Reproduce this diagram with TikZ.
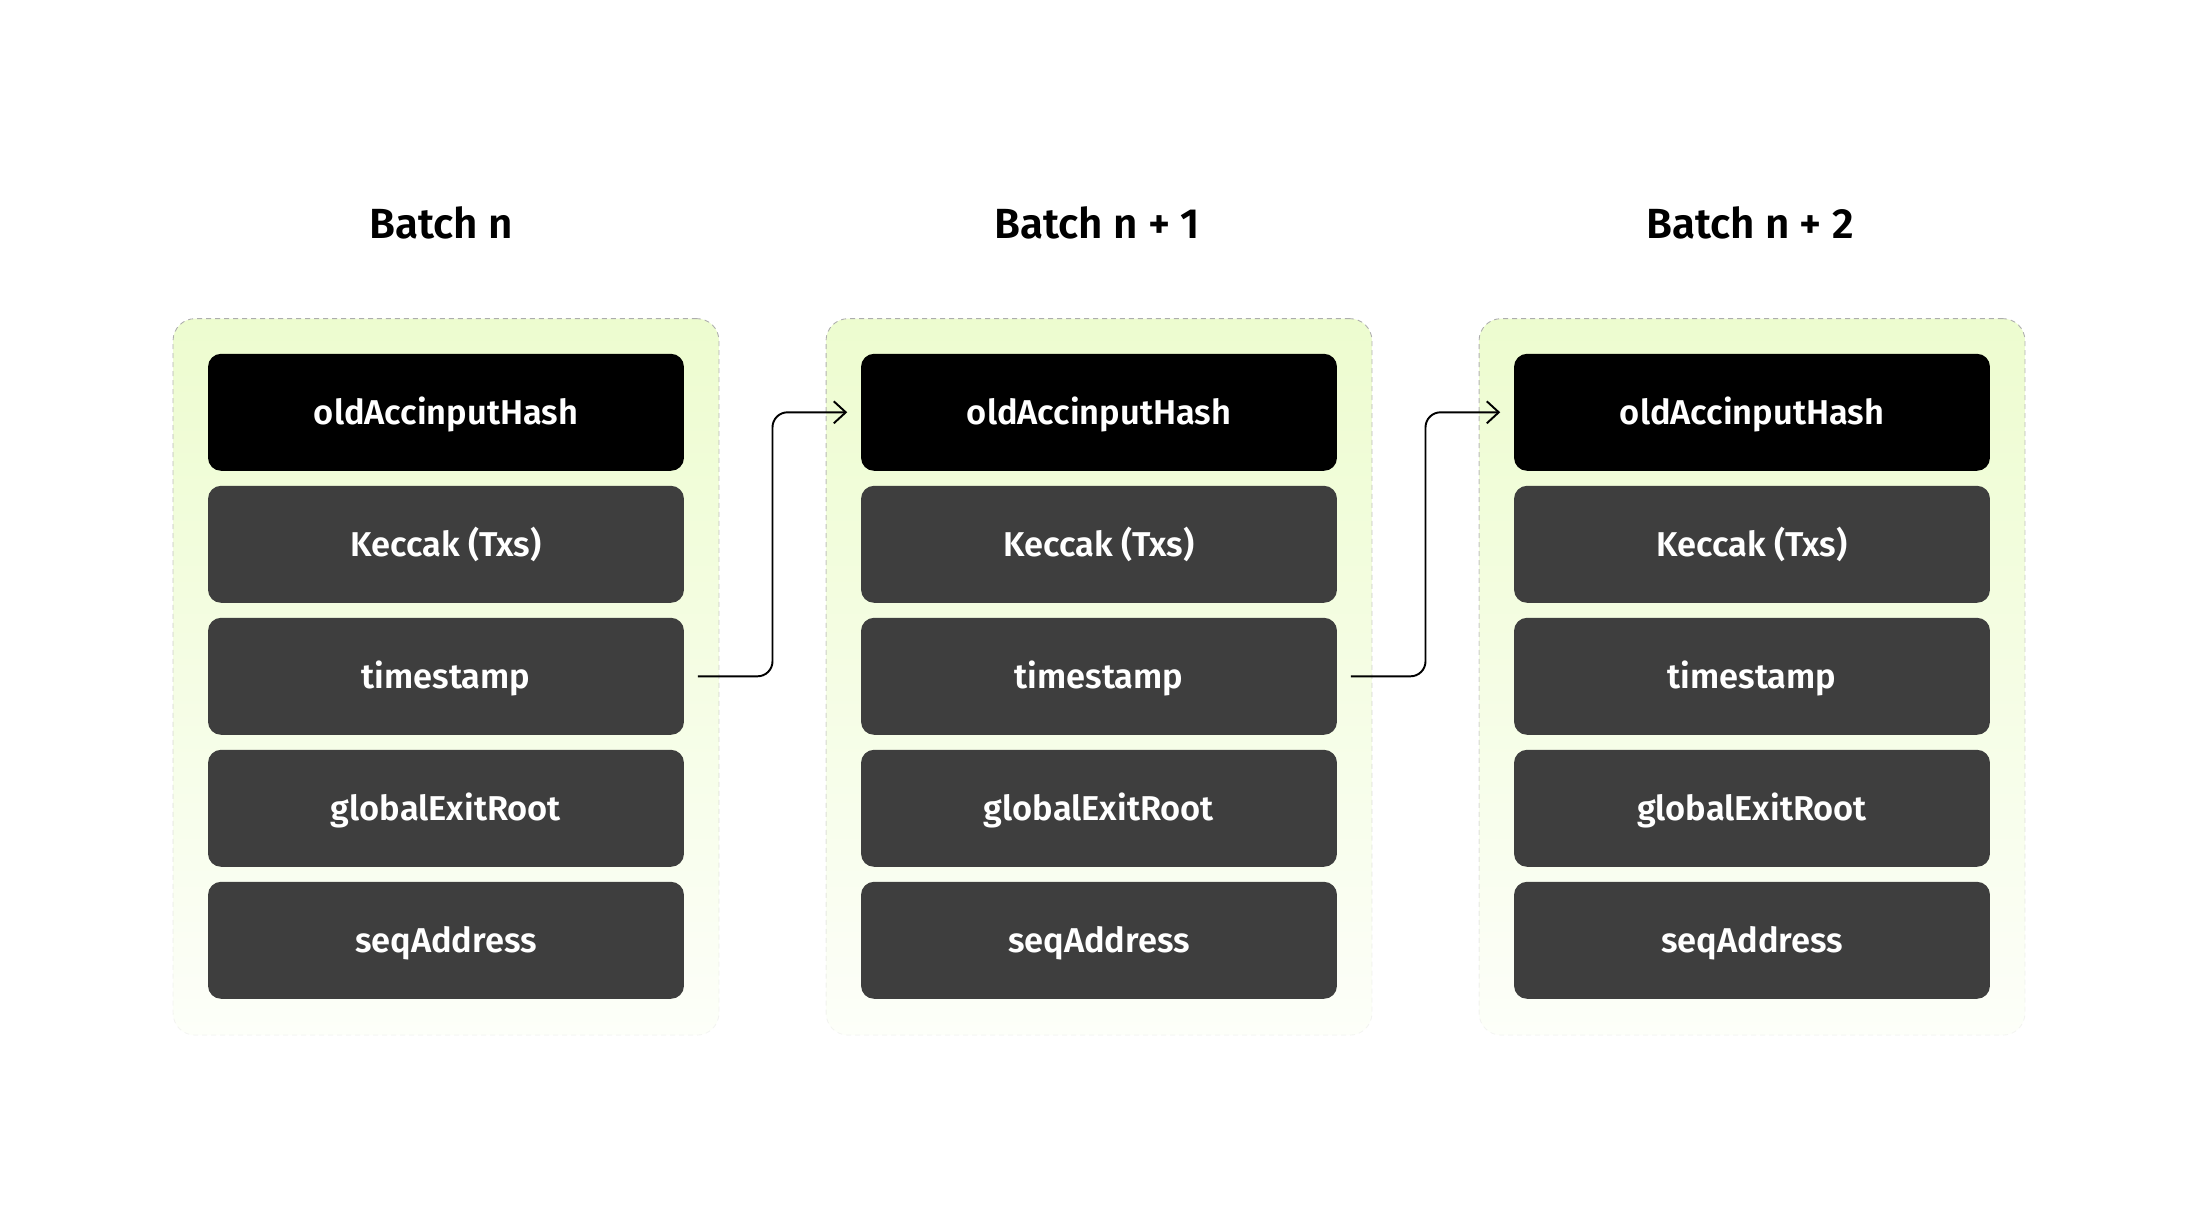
\documentclass[tikz,border=0pt]{standalone}
\usepackage{fontspec}
\setmainfont{Fira Sans}[BoldFont={Fira Sans SemiBold}]
\usetikzlibrary{arrows.meta,calc,fadings}
\definecolor{fieldgray}{HTML}{3E3E3E}
\definecolor{fencegreen}{HTML}{EDFCCF}
\definecolor{fenceline}{HTML}{ADADAD}
\tikzset{>={Straight Barb[length=2.4mm,width=4.4mm]}}
\tikzfading[name=fencefade,top color=transparent!0,bottom color=transparent!88]
\tikzset{
	fence/.style={draw=fenceline,dash pattern=on 0.1cm off 0.08cm,line width=0.5pt,fill=fencegreen,rounded corners=0.44cm,minimum width=10.92cm,minimum height=14.34cm,path fading=fencefade},
	field/.style={fill=fieldgray,text=white,rounded corners=0.26cm,minimum width=9.52cm,minimum height=2.34cm,text height=0.47cm,text depth=0cm,font=\fontsize{19.6}{23}\selectfont\bfseries},
	head/.style={field,fill=black},
	title/.style={anchor=base,font=\fontsize{24}{29}\selectfont\bfseries}
}

\begin{document}
\begin{tikzpicture}[x=0.02cm,y=-0.02cm]
	\useasboundingbox (0,0) rectangle (2196,1227);
	% batch n
	\node[title] (t1) at(441,238){Batch n};
	\node[fence] (b1) at(446,676.6){};
	\node[head] (oh1) at(446,412.3){oldAccinputHash};
	\node[field] (kc1) at(446,544.3){Keccak (Txs)};
	\node[field] (ts1) at(446,676.3){timestamp};
	\node[field] (ge1) at(446,808.3){globalExitRoot};
	\node[field] (sa1) at(446,940.3){seqAddress};
	% batch n + 1
	\node[title] (t2) at(1097,238){Batch n + 1};
	\node[fence] (b2) at(1099,676.6){};
	\node[head] (oh2) at(1099,412.3){oldAccinputHash};
	\node[field] (kc2) at(1099,544.3){Keccak (Txs)};
	\node[field] (ts2) at(1099,676.3){timestamp};
	\node[field] (ge2) at(1099,808.3){globalExitRoot};
	\node[field] (sa2) at(1099,940.3){seqAddress};
	% batch n + 2
	\node[title] (t3) at(1750,238){Batch n + 2};
	\node[fence] (b3) at(1752,676.6){};
	\node[head] (oh3) at(1752,412.3){oldAccinputHash};
	\node[field] (kc3) at(1752,544.3){Keccak (Txs)};
	\node[field] (ts3) at(1752,676.3){timestamp};
	\node[field] (ge3) at(1752,808.3){globalExitRoot};
	\node[field] (sa3) at(1752,940.3){seqAddress};
	% links
	\coordinate (m1) at ($(ts1.east)!.5!(oh2.west)$);
	\coordinate (m2) at ($(ts2.east)!.5!(oh3.west)$);
	\draw[->,line width=1.1pt,rounded corners=0.3cm,shorten <=0.27cm,shorten >=0.27cm](ts1.east)--(ts1.east-|m1)--(m1|-oh2.west)--(oh2.west);
	\draw[->,line width=1.1pt,rounded corners=0.3cm,shorten <=0.27cm,shorten >=0.27cm](ts2.east)--(ts2.east-|m2)--(m2|-oh3.west)--(oh3.west);
\end{tikzpicture}
\end{document}
